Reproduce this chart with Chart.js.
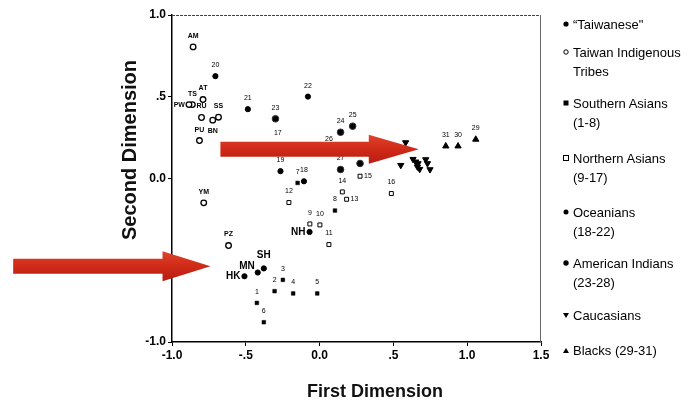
<!DOCTYPE html>
<html>
<head>
<meta charset="utf-8">
<script src="https://cdn.jsdelivr.net/npm/chart.js@4.4.0/dist/chart.umd.min.js"></script>
<style>
  html, body { margin: 0; padding: 0; background: #fff; }
  #wrap { position: relative; width: 689px; height: 406px; }
  #legend { position: absolute; left: 0; top: 0; font-family: "Liberation Sans", Arial, sans-serif; font-size: 13px; color: #000; }
  #legend .item { position: absolute; left: 573px; line-height: 19px; white-space: nowrap; }
  #legend .item svg { position: absolute; left: -11px; top: 5px; }
</style>
</head>
<body>
<div id="wrap">
  <canvas id="chart" width="689" height="406"></canvas>
  <div id="legend"></div>
</div>
<script>
(function () {
  'use strict';

  // "Taiwanese" groups
  var taiwaneseLabels = ['SH', 'MN', 'HK', 'NH'];
  var taiwaneseX = [-0.378, -0.419, -0.509, -0.068];
  var taiwaneseY = [-0.550, -0.575, -0.598, -0.327];

  // Taiwan indigenous tribes
  var tribeLabels = ['AM', 'TS', 'PW', 'AT', 'RU', 'PU', 'SS', 'BN', 'YM', 'PZ'];
  var tribeX = [-0.857, -0.862, -0.885, -0.790, -0.800, -0.814, -0.685, -0.724, -0.785, -0.617];
  var tribeY = [0.805, 0.452, 0.452, 0.483, 0.373, 0.232, 0.375, 0.357, -0.149, -0.410];

  // Southern Asians (1-8)
  var southLabels = ['1', '2', '3', '4', '5', '6', '7', '8'];
  var southX = [-0.425, -0.305, -0.249, -0.179, -0.016, -0.378, -0.149, 0.104];
  var southY = [-0.761, -0.689, -0.620, -0.703, -0.703, -0.879, -0.027, -0.196];

  // Northern Asians (9-17)
  var northLabels = ['9', '10', '11', '12', '13', '14', '15', '16', '17'];
  var northX = [-0.066, 0.002, 0.063, -0.208, 0.183, 0.154, 0.274, 0.486, -0.283];
  var northY = [-0.278, -0.284, -0.404, -0.147, -0.127, -0.082, 0.014, -0.092, 0.208];

  // Oceanians (18-22)
  var oceanLabels = ['18', '19', '20', '21', '22'];
  var oceanX = [-0.106, -0.265, -0.706, -0.486, -0.079];
  var oceanY = [-0.017, 0.045, 0.626, 0.424, 0.501];

  // American Indians (23-28)
  var amerLabels = ['23', '24', '25', '26', '27', '28'];
  var amerX = [-0.299, 0.142, 0.224, 0.063, 0.142, 0.274];
  var amerY = [0.365, 0.283, 0.320, 0.171, 0.055, 0.092];

  // Caucasians
  var caucX = [0.583, 0.550, 0.633, 0.651, 0.663, 0.678, 0.719, 0.731, 0.748, 0.667];
  var caucY = [0.220, 0.081, 0.118, 0.102, 0.071, 0.057, 0.116, 0.092, 0.055, 0.092];

  // Blacks (29-31)
  var blackLabels = ['31', '30', '29'];
  var blackX = [0.855, 0.938, 1.058];
  var blackY = [0.198, 0.198, 0.239];

  var xTickLabels = ['-1.0', '-.5', '0.0', '.5', '1.0', '1.5'];
  var yTickLabels = ['-1.0', '', '0.0', '.5', '1.0']; // -.5 sits under the arrow

  // annotation arrows, data units (tail, tip)
  var arrowTails = [[-0.672, 0.179], [-2.076, -0.536]];
  var arrowTips = [[0.672, 0.179], [-0.739, -0.536]];

  var FONT = '"Liberation Sans", Arial, sans-serif';

  // where a point label sits relative to its marker
  var labelPlace = { PW: 'left', BN: 'below', MN: 'leftup', HK: 'left', NH: 'left', '13': 'right', '15': 'right' };

  function pts(xs, ys) {
    return xs.map(function (x, i) { return { x: x, y: ys[i] }; });
  }

  var datasets = [
    { label: '"Taiwanese"', data: pts(taiwaneseX, taiwaneseY), names: taiwaneseLabels,
      pointStyle: 'circle', pointRadius: 2.6, backgroundColor: '#000', borderColor: '#000', borderWidth: 1,
      labelFont: 'bold 10px ' + FONT },
    { label: 'Taiwan Indigenous Tribes', data: pts(tribeX, tribeY), names: tribeLabels,
      pointStyle: 'circle', pointRadius: 2.8, backgroundColor: '#fff', borderColor: '#000', borderWidth: 1.3,
      labelFont: 'bold 7px ' + FONT },
    { label: 'Southern Asians (1-8)', data: pts(southX, southY), names: southLabels,
      pointStyle: 'rect', pointRadius: 2.6, backgroundColor: '#000', borderColor: '#000', borderWidth: 0.5,
      labelFont: '7px ' + FONT },
    { label: 'Northern Asians (9-17)', data: pts(northX, northY), names: northLabels,
      pointStyle: 'rect', pointRadius: 2.8, backgroundColor: '#fff', borderColor: '#000', borderWidth: 1,
      labelFont: '7px ' + FONT },
    { label: 'Oceanians (18-22)', data: pts(oceanX, oceanY), names: oceanLabels,
      pointStyle: 'circle', pointRadius: 2.6, backgroundColor: '#000', borderColor: '#000', borderWidth: 1,
      labelFont: '7px ' + FONT },
    { label: 'American Indians (23-28)', data: pts(amerX, amerY), names: amerLabels,
      pointStyle: 'circle', pointRadius: 3.3, backgroundColor: '#000', borderColor: '#333', borderWidth: 1,
      labelFont: '7px ' + FONT },
    { label: 'Caucasians', data: pts(caucX, caucY), names: [],
      pointStyle: 'triangle', rotation: 180, pointRadius: 3.6, backgroundColor: '#000', borderColor: '#000', borderWidth: 1,
      labelFont: '7px ' + FONT },
    { label: 'Blacks (29-31)', data: pts(blackX, blackY), names: blackLabels,
      pointStyle: 'triangle', pointRadius: 3.6, backgroundColor: '#000', borderColor: '#000', borderWidth: 1,
      labelFont: '7px ' + FONT }
  ];

  var pointLabels = {
    id: 'pointLabels',
    afterDatasetsDraw: function (chart) {
      var ctx = chart.ctx;
      ctx.save();
      ctx.fillStyle = '#000';
      chart.data.datasets.forEach(function (ds, di) {
        var meta = chart.getDatasetMeta(di);
        ctx.font = ds.labelFont;
        meta.data.forEach(function (el, i) {
          var name = ds.names[i];
          if (!name) return;
          var place = labelPlace[name] || 'above';
          var x = el.x, y = el.y;
          ctx.textBaseline = 'middle';
          if (place === 'left') { ctx.textAlign = 'right'; ctx.fillText(name, x - 4, y); }
          else if (place === 'leftup') { ctx.textAlign = 'right'; ctx.fillText(name, x - 3, y - 6); }
          else if (place === 'right') { ctx.textAlign = 'left'; ctx.fillText(name, x + 4, y); }
          else if (place === 'below') { ctx.textAlign = 'center'; ctx.fillText(name, x, y + 11); }
          else { ctx.textAlign = 'center'; ctx.fillText(name, x, y - (di === 0 ? 13 : 11)); }
        });
      });
      ctx.restore();
    }
  };

  function drawArrow(ctx, x0, x1, y, shaftHalf, headHalf, headLen) {
    var xb = x1 - headLen;
    var grad = ctx.createLinearGradient(0, y - headHalf, 0, y + headHalf);
    grad.addColorStop(0, '#e0432b');
    grad.addColorStop(0.5, '#cf2a18');
    grad.addColorStop(1, '#b81d10');
    ctx.fillStyle = grad;
    ctx.beginPath();
    ctx.moveTo(x0, y - shaftHalf);
    ctx.lineTo(xb, y - shaftHalf);
    ctx.lineTo(xb, y - headHalf);
    ctx.lineTo(x1, y);
    ctx.lineTo(xb, y + headHalf);
    ctx.lineTo(xb, y + shaftHalf);
    ctx.lineTo(x0, y + shaftHalf);
    ctx.closePath();
    ctx.fill();
  }

  var frame = {
    id: 'frame',
    beforeDatasetsDraw: function (chart) {
      var a = chart.chartArea, ctx = chart.ctx;
      ctx.save();
      ctx.strokeStyle = '#444';
      ctx.lineWidth = 1;
      ctx.setLineDash([3, 1]);
      ctx.beginPath();
      ctx.moveTo(a.left, a.top + 0.5);
      ctx.lineTo(a.right, a.top + 0.5);
      ctx.stroke();
      ctx.setLineDash([]);
      ctx.strokeStyle = '#666';
      ctx.beginPath();
      ctx.moveTo(a.right - 0.5, a.top);
      ctx.lineTo(a.right - 0.5, a.bottom);
      ctx.stroke();
      ctx.restore();
    },
    afterDraw: function (chart) {
      var ctx = chart.ctx, xs = chart.scales.x, ys = chart.scales.y;
      ctx.save();
      ctx.fillStyle = '#111';
      ctx.textAlign = 'center';
      ctx.textBaseline = 'middle';
      ctx.font = 'bold 18px ' + FONT;
      ctx.fillText('First Dimension', 375, 392);
      ctx.translate(130, 150);
      ctx.rotate(-Math.PI / 2);
      ctx.font = 'bold 20px ' + FONT;
      ctx.fillText('Second Dimension', 0, 0);
      ctx.restore();

      ctx.save();
      drawArrow(ctx, xs.getPixelForValue(arrowTails[0][0]), xs.getPixelForValue(arrowTips[0][0]),
        ys.getPixelForValue(arrowTails[0][1]), 7.5, 14.5, 50);
      drawArrow(ctx, xs.getPixelForValue(arrowTails[1][0]), xs.getPixelForValue(arrowTips[1][0]),
        ys.getPixelForValue(arrowTails[1][1]), 7.5, 15, 48);
      ctx.restore();
    }
  };

  var tickFont = { family: FONT, size: 12, weight: 'bold' };

  new Chart(document.getElementById('chart'), {
    type: 'scatter',
    data: { datasets: datasets },
    options: {
      responsive: false,
      animation: false,
      layout: { padding: { top: 15, right: 148, bottom: 0, left: 0 } },
      plugins: { legend: { display: false }, tooltip: { enabled: false } },
      scales: {
        x: {
          type: 'linear', min: -1, max: 1.5,
          ticks: { stepSize: 0.5, color: '#000', font: tickFont, padding: 2,
            callback: function (v, i) { return xTickLabels[i]; } },
          grid: { drawOnChartArea: false, drawTicks: true, tickLength: 4, color: '#000' },
          border: { color: '#000', width: 1.5 },
          afterFit: function (s) { s.height = 64; }
        },
        y: {
          type: 'linear', min: -1, max: 1,
          ticks: { stepSize: 0.5, color: '#000', font: tickFont, padding: 2,
            callback: function (v, i) { return yTickLabels[i]; } },
          grid: { drawOnChartArea: false, drawTicks: true, tickLength: 4, color: '#000' },
          border: { color: '#000', width: 1.5 },
          afterFit: function (s) { s.width = 172; }
        }
      }
    },
    plugins: [frame, pointLabels]
  });

  // legend drawn as html on the right
  var legendItems = [
    { lines: ['\u201cTaiwanese"'], top: 24, mark: '<circle cx="4" cy="4" r="2.6" fill="#000"/>' },
    { lines: ['Taiwan Indigenous', 'Tribes'], top: 52, mark: '<circle cx="4" cy="4" r="2.2" fill="#fff" stroke="#000" stroke-width="1"/>' },
    { lines: ['Southern Asians', '(1-8)'], top: 103, mark: '<rect x="1.5" y="1.5" width="5" height="5" fill="#000"/>' },
    { lines: ['Northern Asians', '(9-17)'], top: 158, mark: '<rect x="1.5" y="1.5" width="5" height="5" fill="#fff" stroke="#000" stroke-width="1"/>' },
    { lines: ['Oceanians', '(18-22)'], top: 212, mark: '<circle cx="4" cy="4" r="2.5" fill="#000"/>' },
    { lines: ['American Indians', '(23-28)'], top: 263, mark: '<circle cx="4" cy="4" r="2.7" fill="#000"/>' },
    { lines: ['Caucasians'], top: 315, mark: '<path d="M1 2 L7 2 L4 7 Z" fill="#000"/>' },
    { lines: ['Blacks (29-31)'], top: 350, mark: '<path d="M1 7 L7 7 L4 2 Z" fill="#000"/>' }
  ];
  var legendEl = document.getElementById('legend');
  legendItems.forEach(function (it) {
    var d = document.createElement('div');
    d.className = 'item';
    d.style.top = (it.top - 9.5) + 'px';
    d.innerHTML = '<svg width="8" height="8">' + it.mark + '</svg>' + it.lines.join('<br>');
    legendEl.appendChild(d);
  });
})();
</script>
</body>
</html>
